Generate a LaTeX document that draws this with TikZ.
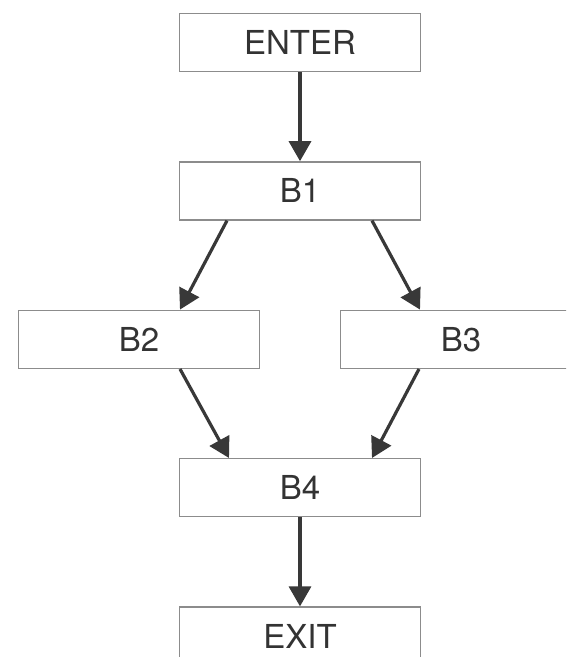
\documentclass[tikz,border=0pt]{standalone}
\usepackage{fontspec}
\setmainfont{TeX Gyre Heros}
\usetikzlibrary{arrows.meta, positioning}

\begin{document}
\begin{tikzpicture}[>={Triangle[length=20pt,width=22pt]},node distance=89pt,
  block/.style={draw=black!45, line width=1.4pt, minimum width=241pt, minimum height=58pt,
    inner sep=0pt, text=black!80, font=\fontsize{33}{38}\selectfont},
  link/.style={->, color=black!78, line width=3.2pt}]

  \useasboundingbox (0,0) rectangle (566pt,657pt);
  \clip (0,0) rectangle (566pt,657pt);

% define the blocks of the graph
  \node[block]   (enter) at (300pt,614.5pt) {ENTER};
  \node[block]   (b1)   [below=of enter]   {B1};
  \node[block]   (b2)   [below=of b1, xshift=-161pt]   {B2};
  \node[block]   (b3)   [below=of b1, xshift=161pt]    {B3};
  \node[block]   (b4)   [below=of b2, xshift=161pt]    {B4};
  \node[block]   (exit) [below=of b4]   {EXIT};

% define the links
  \path[link] (enter) edge (b1)
        ([xshift=-73pt]b1.south) edge ([xshift=41pt]b2.north)
        ([xshift=72pt]b1.south)  edge ([xshift=-41pt]b3.north)
        ([xshift=41pt]b2.south)  edge ([xshift=-71pt]b4.north)
        ([xshift=-42pt]b3.south) edge ([xshift=72pt]b4.north)
        (b4) edge (exit);

\end{tikzpicture}
\end{document}
